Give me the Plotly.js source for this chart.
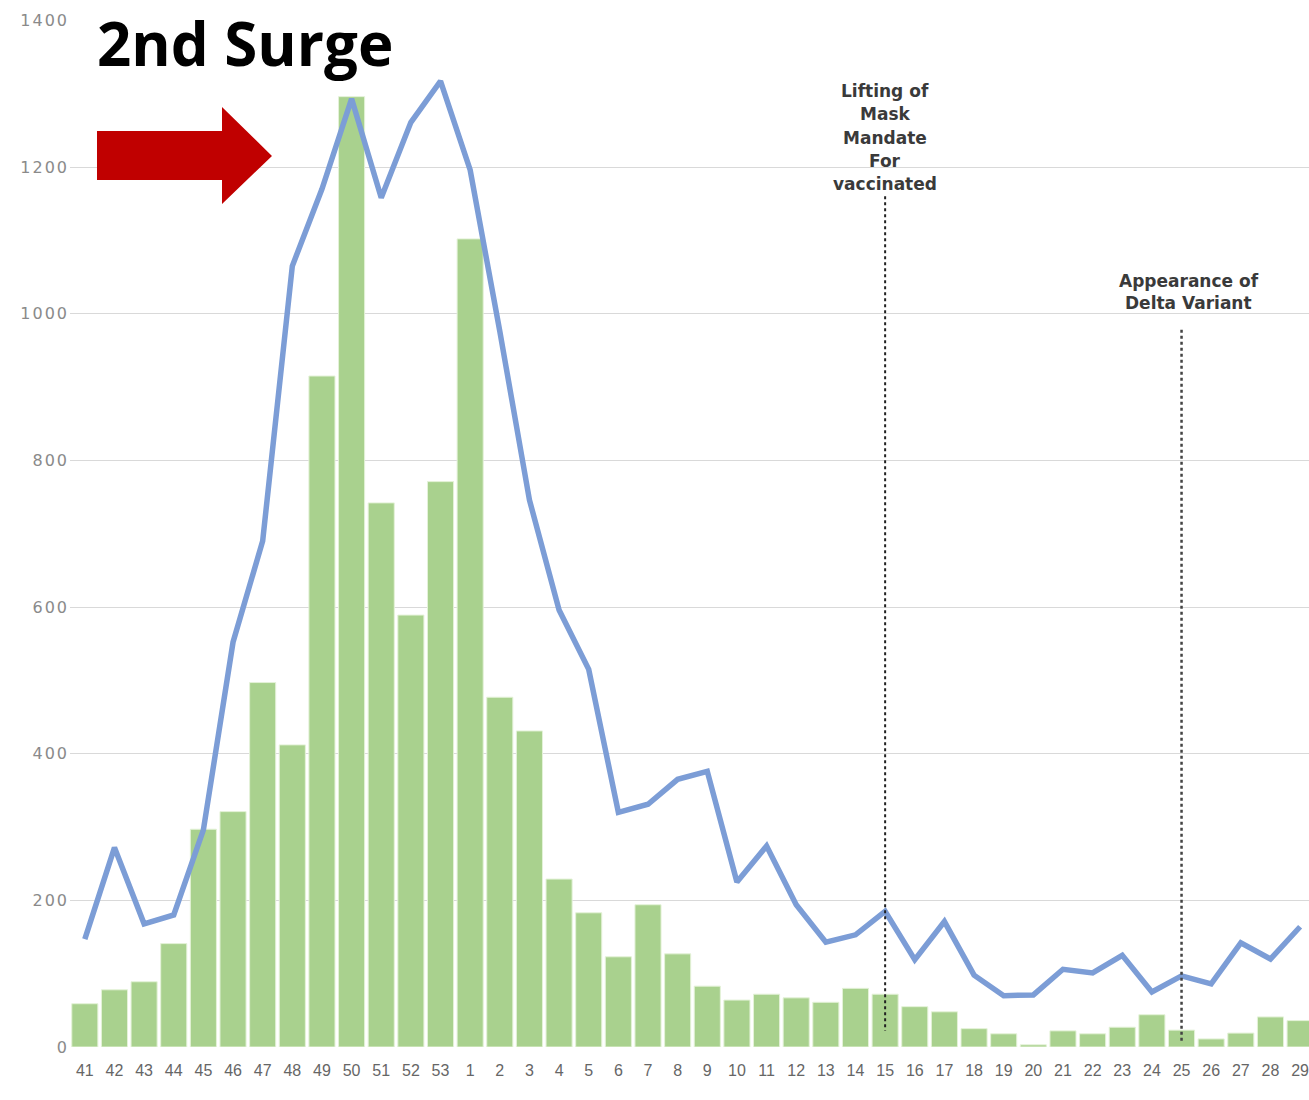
<!DOCTYPE html>
<html>
<head>
<meta charset="utf-8">
<script src="https://cdn.plot.ly/plotly-3.0.1.min.js"></script>
<style>
  html, body { margin: 0; padding: 0; background: #ffffff; }
  #chart { width: 1309px; height: 1100px; }
  #chart .ytick text { letter-spacing: 2px; }
</style>
</head>
<body>
<div id="chart"></div>
<script>
// Epidemiological weeks (2020 weeks 41-53, then 2021 weeks 1-29)
const weeks = ['41','42','43','44','45','46','47','48','49','50','51','52','53',
  '1','2','3','4','5','6','7','8','9','10','11','12','13','14','15','16','17','18','19','20',
  '21','22','23','24','25','26','27','28','29'];

// Weekly cases (green bars)
const weeklyCases = [59,78,89,141,297,321,497,412,915,1296,742,589,771,
  1102,477,431,229,183,123,194,127,83,64,72,67,61,80,72,55,48,25,18,3,
  22,18,27,44,23,11,19,41,36];

// Trend line (blue)
const trendValues = [147,272,168,180,296,552,690,1065,1170,1293,1158,1261,1317,
  1196,976,746,596,515,320,331,365,376,225,274,194,143,153,185,119,171,98,70,71,
  106,101,125,75,97,86,142,120,164];

const yTicks = [0,200,400,600,800,1000,1200,1400];

// Event markers
const eventWeeks = ['15','25'];
const eventLabels = [
  ['Lifting of', 'Mask', 'Mandate', 'For', 'vaccinated'],
  ['Appearance of', 'Delta Variant']
];
const titleText = '2nd Surge';

// Layout geometry (pixels)
const W = 1309, H = 1100;
const M = {l: 70, r: 0, t: 20, b: 53};
const PW = W - M.l - M.r, PH = H - M.t - M.b;
const px = x => (x - M.l) / PW;
const py = y => (H - M.b - y) / PH;

const bars = {
  type: 'bar', x: weeks, y: weeklyCases,
  marker: {color: '#a9d18e', line: {color: '#e4f2d8', width: 1}},
  hoverinfo: 'x+y', showlegend: false
};
const line = {
  type: 'scatter', mode: 'lines', x: weeks, y: trendValues,
  line: {color: '#7c9dd6', width: 5.5}, showlegend: false
};

// Red arrow pointing right
const arrowPts = [[97,131],[222,131],[222,107],[272,156],[222,204],[222,180],[97,180]];
const arrowPath = 'M ' + arrowPts.map(p => px(p[0]).toFixed(5) + ',' + py(p[1]).toFixed(5)).join(' L ') + ' Z';

// category positions (index) for events
const ev0 = weeks.indexOf(eventWeeks[0]);
const ev1 = weeks.indexOf(eventWeeks[1]);

const annotations = [
  {xref: 'paper', yref: 'paper', x: px(245), y: py(0.5), xanchor: 'center', yanchor: 'top',
   text: '<b>' + titleText + '</b>', showarrow: false,
   font: {family: 'Open Sans, sans-serif', size: 60, color: '#000'}}
];
const labelFont = {family: 'DejaVu Sans, sans-serif', size: 17, color: '#3a3a3a', weight: 'bold'};
eventLabels[0].forEach((t, i) => annotations.push({
  xref: 'x', yref: 'paper', x: ev0, y: py(91 + i * 23.3), xanchor: 'center', yanchor: 'middle',
  text: t, showarrow: false, font: labelFont
}));
eventLabels[1].forEach((t, i) => annotations.push({
  xref: 'x', yref: 'paper', x: ev1, y: py(281 + i * 22.5), xanchor: 'center', yanchor: 'middle',
  text: t, showarrow: false, xshift: 7, font: labelFont
}));

const layout = {
  width: W, height: H,
  margin: M,
  paper_bgcolor: '#ffffff', plot_bgcolor: '#ffffff',
  bargap: 0.12,
  font: {family: 'DejaVu Sans, sans-serif', color: '#555'},
  xaxis: {
    type: 'category', range: [-0.5, 41.3],
    showgrid: false, zeroline: false, showline: false, ticks: '',
    tickfont: {family: 'Liberation Sans Narrow, Liberation Sans, sans-serif', size: 16, color: '#666'},
    ticklabelstandoff: 12, tickangle: 0, automargin: false
  },
  yaxis: {
    range: [0, 1400.5], tickvals: yTicks, ticktext: yTicks.map(String),
    showgrid: true, gridcolor: '#d9d9d9', gridwidth: 1,
    zeroline: false, showline: false, ticks: '',
    tickfont: {family: 'DejaVu Sans, sans-serif', size: 16, color: '#8a8a8a'},
    automargin: false
  },
  shapes: [
    {type: 'path', xref: 'paper', yref: 'paper', path: arrowPath,
     fillcolor: '#c00000', line: {width: 0}},
    {type: 'line', xref: 'x', yref: 'y', x0: ev0, x1: ev0, y0: 1160, y1: 22,
     line: {color: '#222', width: 2, dash: 'dot'}},
    {type: 'line', xref: 'x', yref: 'y', x0: ev1, x1: ev1, y0: 978, y1: 5,
     line: {color: '#444', width: 2.5, dash: 'dot'}}
  ],
  annotations: annotations
};

Plotly.newPlot('chart', [bars, line], layout, {displayModeBar: false, staticPlot: true});
</script>
</body>
</html>
